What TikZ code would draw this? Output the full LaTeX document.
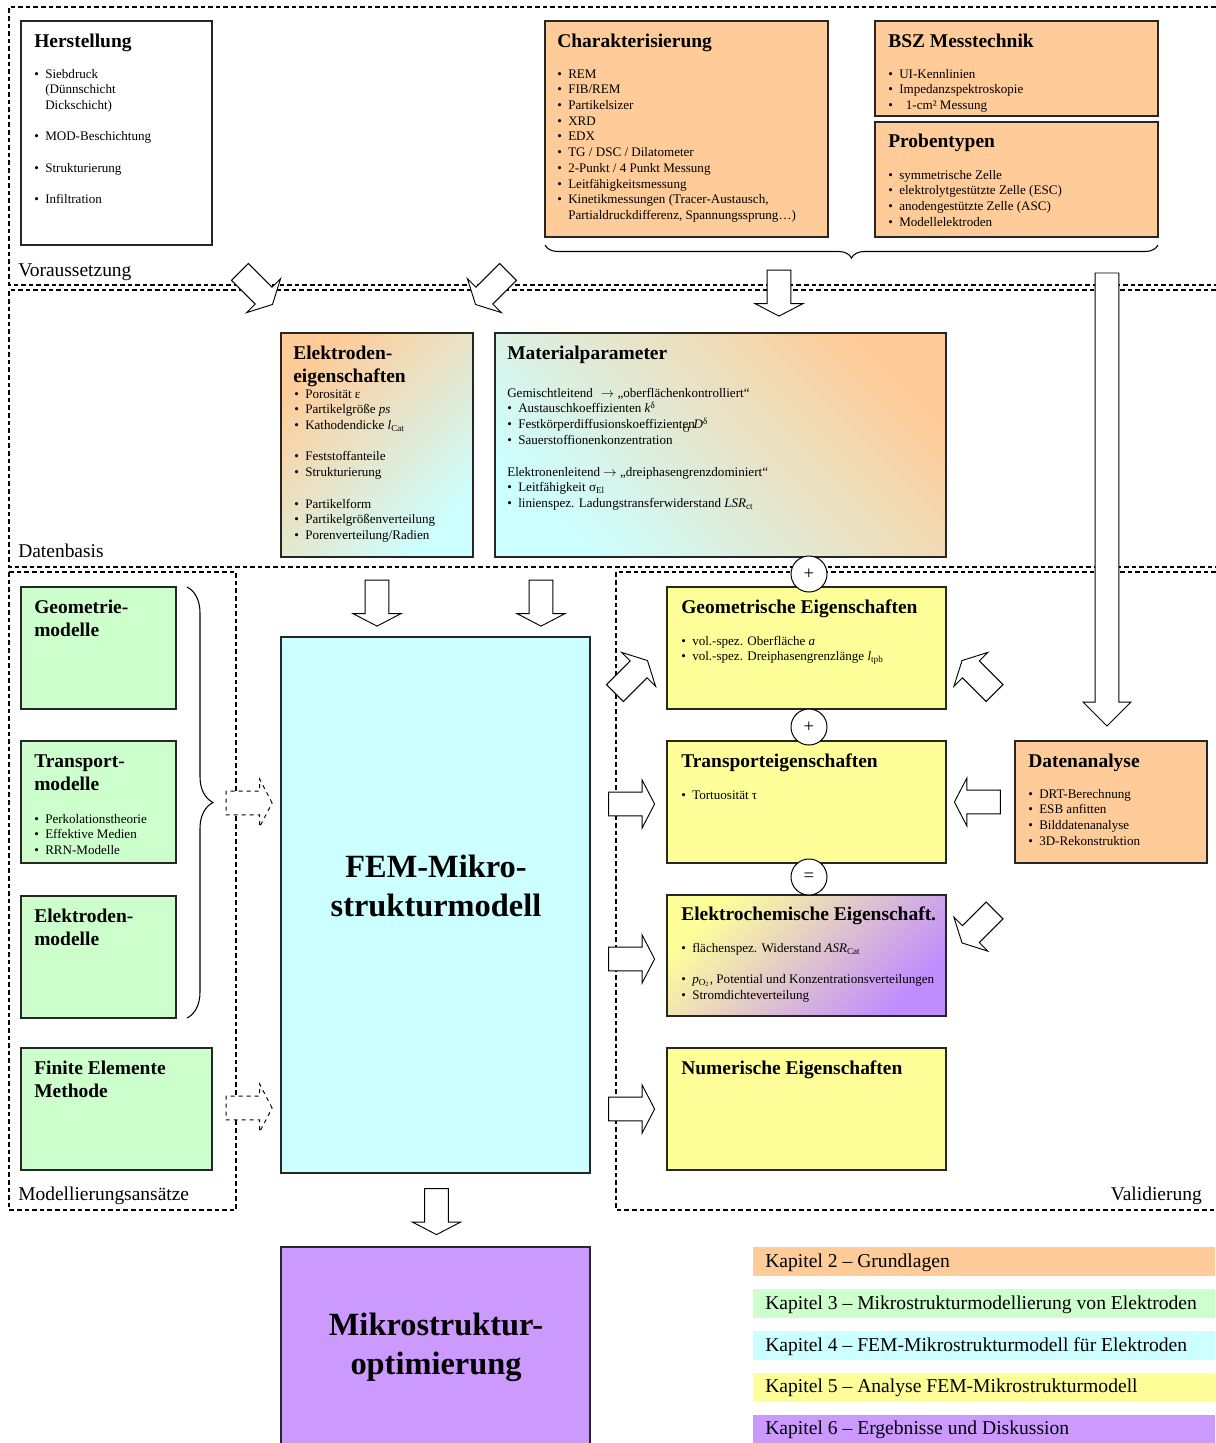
\documentclass[tikz,border=0pt]{standalone}
\usepackage{fontspec}
\setmainfont{Liberation Serif}
\usetikzlibrary{shapes,arrows,positioning,fit,calc,decorations.pathreplacing}

\definecolor{orng}{HTML}{FFCC99}
\definecolor{grn}{HTML}{CCFFCC}
\definecolor{cyn}{HTML}{CCFFFF}
\definecolor{ylw}{HTML}{FFFF99}
\definecolor{prp}{HTML}{CC99FF}
\definecolor{prpdark}{HTML}{C08CFF}

\newcommand{\bul}{\makebox[8.25pt][l]{\textbullet}}
\newcommand{\ind}{\hspace*{8.25pt}}
\newcommand{\lstrows}[1]{\begin{tabular}[t]{@{}l@{}}#1\end{tabular}}

\begin{document}
\begin{tikzpicture}[
    x=0.75pt, y=-0.75pt,
    box/.style={draw=black!85, line width=0.8pt, inner sep=0pt},
    boxtitle/.style={anchor=base west, inner sep=0pt, font=\fontsize{14.6}{17.5}\selectfont\bfseries},
    boxlist/.style={anchor=base west, inner sep=0pt, font=\fontsize{9.8}{11.8}\selectfont},
    bigtxt/.style={align=center, inner sep=0pt, font=\fontsize{24.3}{29}\selectfont\bfseries},
    zonelabel/.style={anchor=base west, inner sep=0pt, font=\fontsize{14.6}{17}\selectfont},
    zone/.style={line width=0.9pt, dash pattern=on 3.5pt off 2.2pt},
    blk/.style={single arrow, draw, fill=white, line width=0.7pt, inner xsep=0pt, inner ysep=8.6pt,
        minimum height=34.5pt, single arrow head extend=9pt, single arrow tip angle=125},
    longblk/.style={blk, minimum height=339.75pt, single arrow tip angle=90},
    brc/.style={decorate, line width=0.8pt},
    circ/.style={circle, draw, fill=white, line width=0.75pt, minimum size=27pt, inner sep=0pt, font=\fontsize{14}{14}\selectfont},
    kapbar/.style={anchor=west, minimum width=346.5pt, minimum height=21.75pt, inner sep=0pt},
    kaptxt/.style={anchor=base west, inner sep=0pt, font=\fontsize{14.7}{16}\selectfont},
]
\useasboundingbox (0,0) rectangle (1215,1443);

% Zones
\draw[zone] (1216,7) -- (9,7) -- (9,285) -- (1216,285);
\draw[zone] (1216,290) -- (9,290) -- (9,567) -- (1216,567);
\draw[zone] (9,572) rectangle (236,1210);
\draw[zone] (1216,572) -- (616,572) -- (616,1210) -- (1216,1210);

\node[zonelabel] (vor-l) at (18,276) {Voraussetzung};
\node[zonelabel] (dat-l) at (18,557) {Datenbasis};
\node[zonelabel] (mod-l) at (18,1200) {Modellierungsansätze};
\node[zonelabel, anchor=base east] (val-l) at (1202,1200) {Validierung};

% Voraussetzung
\node[box, fit={(21,21) (212,245)}] (herst) {};
\node[boxtitle] (herst-t) at (34,47) {Herstellung};
\node[boxlist] (herst-l) at (34,78) {\lstrows{\bul Siebdruck\\ \ind(Dünnschicht\\ \ind Dickschicht)\\[11.8pt]
    \bul MOD-Beschichtung\\[11.8pt] \bul Strukturierung\\[11.8pt] \bul Infiltration}};

\node[box, fill=orng, fit={(545,21) (828,237)}] (chara) {};
\node[boxtitle] (chara-t) at (557,47) {Charakterisierung};
\node[boxlist] (chara-l) at (557,78) {\lstrows{\bul REM\\ \bul FIB/REM\\ \bul Partikelsizer\\ \bul XRD\\ \bul EDX\\
    \bul TG / DSC / Dilatometer\\ \bul 2-Punkt / 4 Punkt Messung\\ \bul Leitfähigkeitsmessung\\
    \bul Kinetikmessungen (Tracer-Austausch,\\ \ind Partialdruckdifferenz, Spannungssprung…)}};

\node[box, fill=orng, fit={(875,21) (1158,116)}] (bsz) {};
\node[boxtitle] (bsz-t) at (888,47) {BSZ Messtechnik};
\node[boxlist] (bsz-l) at (888,78) {\lstrows{\bul UI-Kennlinien\\ \bul Impedanzspektroskopie\\ \bul\hspace{5pt}1-cm² Messung}};

\node[box, fill=orng, fit={(875,122) (1158,237)}] (proben) {};
\node[boxtitle] (proben-t) at (888,147) {Probentypen};
\node[boxlist] (proben-l) at (888,179) {\lstrows{\bul symmetrische Zelle\\ \bul elektrolytgestützte Zelle (ESC)\\
    \bul anodengestützte Zelle (ASC)\\ \bul Modellelektroden}};

\draw[brc, decoration={brace, amplitude=9.75pt}] (1158,245) -- (545,245);

% Datenbasis
\node[box, top color=orng, bottom color=cyn, shading angle=45, fit={(281,333) (473,557)}] (elek) {};
\node[boxtitle] (elek-t) at (293,359) {\lstrows{Elektroden-\\eigenschaften}};
\node[boxlist] (elek-l) at (294,398) {\lstrows{\bul Porosität ε\\ \bul Partikelgröße \textit{ps}\\ \bul Kathodendicke \textit{l}\textsubscript{Cat}\\[11.8pt]
    \bul Feststoffanteile\\ \bul Strukturierung\\[11.8pt]
    \bul Partikelform\\ \bul Partikelgrößenverteilung\\ \bul Porenverteilung/Radien}};

\node[box, top color=orng, bottom color=cyn, shading angle=-45, fit={(495,333) (946,557)}] (matpar) {};
\node[boxtitle] (matpar-t) at (507,359) {Materialparameter};
\node[boxlist] (matpar-l) at (507,397) {\lstrows{Gemischtleitend\hspace{6pt}$\rightarrow$ „oberflächenkontrolliert“\\
    \bul Austauschkoeffizienten \textit{k}\textsuperscript{δ}\\
    \bul Festkörperdiffusionskoeffizienten\hspace{-9pt}\raisebox{-2.5pt}{\fontsize{7}{7}\selectfont O}\hspace{3pt}\textit{D}\textsuperscript{δ}\\
    \bul Sauerstoffionenkonzentration\\[11.8pt]
    Elektronenleitend $\rightarrow$ „dreiphasengrenzdominiert“\\
    \bul Leitfähigkeit σ\textsubscript{El}\\
    \bul linienspez. Ladungstransferwiderstand \textit{LSR}\textsubscript{ct}}};

% Modellierungsansaetze
\node[box, fill=grn, fit={(21,587) (176,709)}] (geomod) {};
\node[boxtitle] (geomod-t) at (34,613) {\lstrows{Geometrie-\\modelle}};
\node[box, fill=grn, fit={(21,741) (176,863)}] (transmod) {};
\node[boxtitle] (transmod-t) at (34,767) {\lstrows{Transport-\\modelle}};
\node[boxlist] (transmod-l) at (34,823) {\lstrows{\bul Perkolationstheorie\\ \bul Effektive Medien\\ \bul RRN-Modelle}};
\node[box, fill=grn, fit={(21,896) (176,1018)}] (elekmod) {};
\node[boxtitle] (elekmod-t) at (34,922) {\lstrows{Elektroden-\\modelle}};
\node[box, fill=grn, fit={(21,1048) (212,1170)}] (femmeth) {};
\node[boxtitle] (femmeth-t) at (34,1074) {\lstrows{Finite Elemente\\Methode}};

\draw[brc, decoration={brace, amplitude=19.5pt}] (187,587) -- (187,1018);

% FEM model
\node[box, fill=cyn, fit={(281,637) (590,1173)}] (fem) {};
\node[bigtxt] (fem-t) at (436,886) {FEM-Mikro-\\strukturmodell};
\node[box, fill=prp, fit={(281,1247) (590,1460)}] (opt) {};
\node[bigtxt] (opt-t) at (436,1347) {Mikrostruktur-\\optimierung};

% Validierung
\node[box, fill=ylw, fit={(667,587) (946,709)}] (geoeig) {};
\node[boxtitle] (geoeig-t) at (681,613) {Geometrische Eigenschaften};
\node[boxlist] (geoeig-l) at (681,645) {\lstrows{\bul vol.-spez. Oberfläche \textit{a}\\ \bul vol.-spez. Dreiphasengrenzlänge \textit{l}\textsubscript{tpb}}};

\node[box, fill=ylw, fit={(667,741) (946,863)}] (transeig) {};
\node[boxtitle] (transeig-t) at (681,767) {Transporteigenschaften};
\node[boxlist] (transeig-l) at (681,799) {\bul Tortuosität τ};

\node[box, top color=ylw, bottom color=prpdark, shading angle=45, fit={(667,895) (946,1016)}] (eleig) {};
\node[boxtitle] (eleig-t) at (681,920) {Elektrochemische Eigenschaft.};
\node[boxlist] (eleig-l) at (681,952) {\lstrows{\bul flächenspez. Widerstand \textit{ASR}\textsubscript{Cat}\\[11.8pt]
    \bul \textit{p}\textsubscript{O\textsubscript{2}}, Potential und Konzentrationsverteilungen\\ \bul Stromdichteverteilung}};

\node[box, fill=ylw, fit={(667,1048) (946,1170)}] (numeig) {};
\node[boxtitle] (numeig-t) at (681,1074) {Numerische Eigenschaften};

\node[box, fill=orng, fit={(1015,741) (1207,863)}] (datan) {};
\node[boxtitle] (datan-t) at (1028,767) {Datenanalyse};
\node[boxlist] (datan-l) at (1028,798) {\lstrows{\bul DRT-Berechnung\\ \bul ESB anfitten\\ \bul Bilddatenanalyse\\ \bul 3D-Rekonstruktion}};

% Block arrows
\node[blk, rotate=-45] (ar-herst) at (254,286) {};
\node[blk, rotate=-135] (ar-char2) at (494,286) {};
\node[blk, rotate=-90] (ar-char) at (779,290) {};
\node[longblk, rotate=-90] (ar-val) at (1107,493.5) {};
\node[blk, rotate=-90] (ar-elek) at (377,600) {};
\node[blk, rotate=-90] (ar-matpar) at (541,600) {};
\node[blk, dashed] (ar-mod) at (246,803) {};
\node[blk, dashed] (ar-femmeth) at (246,1108) {};
\node[blk, rotate=-90] (ar-opt) at (436.5,1208.5) {};
\node[blk, rotate=45] (ar-geo) at (629,679) {};
\node[blk] (ar-trans) at (628.5,804) {};
\node[blk] (ar-eleig) at (628.5,959) {};
\node[blk] (ar-num) at (628.5,1109) {};
\node[blk, rotate=135] (ar-dgeo) at (980.5,679) {};
\node[blk, rotate=180] (ar-dtrans) at (980.5,802) {};
\node[blk, rotate=-135] (ar-deleig) at (980.5,924.5) {};

% Operators
\node[circ] (op1) at (809,574) {+};
\node[circ] (op2) at (809,727) {+};
\node[circ] (op3) at (809,877) {=};

% Chapters
\node[kapbar, fill=orng] (kap2) at (753,1261.5) {};
\node[kapbar, fill=grn] (kap3) at (753,1303.5) {};
\node[kapbar, fill=cyn] (kap4) at (753,1345.5) {};
\node[kapbar, fill=ylw] (kap5) at (753,1387) {};
\node[kapbar, fill=prp] (kap6) at (753,1429) {};
\node[kaptxt] (kap2-t) at (765,1267) {Kapitel 2 – Grundlagen};
\node[kaptxt] (kap3-t) at (765,1309) {Kapitel 3 – Mikrostrukturmodellierung von Elektroden};
\node[kaptxt] (kap4-t) at (765,1351) {Kapitel 4 – FEM-Mikrostrukturmodell für Elektroden};
\node[kaptxt] (kap5-t) at (765,1392.5) {Kapitel 5 – Analyse FEM-Mikrostrukturmodell};
\node[kaptxt] (kap6-t) at (765,1434.5) {Kapitel 6 – Ergebnisse und Diskussion};

\end{tikzpicture}
\end{document}
